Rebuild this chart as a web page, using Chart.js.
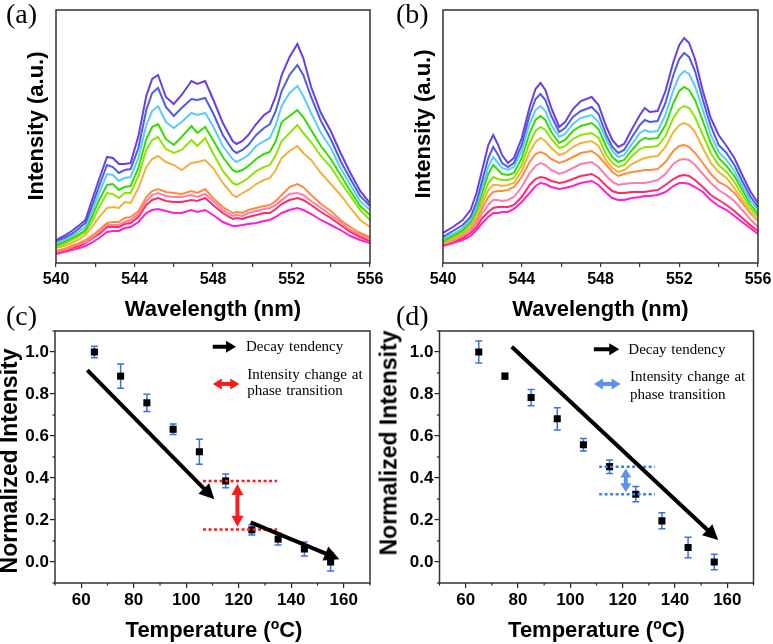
<!DOCTYPE html>
<html><head><meta charset="utf-8">
<script src="https://cdn.jsdelivr.net/npm/chart.js@4.4.1/dist/chart.umd.min.js"></script>
<style>
html,body{margin:0;padding:0;background:#fff;}
#wrap{position:relative;width:773px;height:644px;overflow:hidden;background:#fff;}
canvas{position:absolute;left:0;top:0;}
.t{position:absolute;white-space:nowrap;color:#000;}
.lab{font-family:"Liberation Serif","Times New Roman",serif;font-size:28px;line-height:28px;}
.ax{font-family:"Liberation Sans",Arial,sans-serif;font-weight:bold;font-size:22px;line-height:22px;}
.ax23{font-family:"Liberation Sans",Arial,sans-serif;font-weight:bold;font-size:23px;line-height:23px;}
.lg{font-family:"Liberation Serif","Times New Roman",serif;font-size:15px;line-height:15px;word-spacing:1px;}
.sup{font-size:14px;position:relative;top:-8px;}
</style></head>
<body><div id="wrap">
<canvas id="ca" width="773" height="644"></canvas>
<canvas id="cb" width="773" height="644"></canvas>
<canvas id="cc" width="773" height="644"></canvas>
<canvas id="cd" width="773" height="644"></canvas>

<div class="t lab" style="left:6px;top:-0.4px">(a)</div>
<div class="t lab" style="left:396px;top:-0.4px">(b)</div>
<div class="t lab" style="left:6px;top:301.6px">(c)</div>
<div class="t lab" style="left:396px;top:301.6px">(d)</div>

<div class="t ax" style="left:213px;top:298px;transform:translateX(-50%)">Wavelength (nm)</div>
<div class="t ax" style="left:600.5px;top:298px;transform:translateX(-50%)">Wavelength (nm)</div>
<div class="t ax" style="left:214px;top:619.4px;transform:translateX(-50%)">Temperature (<span class="sup">o</span>C)</div>
<div class="t ax" style="left:596.5px;top:619.4px;transform:translateX(-50%)">Temperature (<span class="sup">o</span>C)</div>

<div class="t ax" style="left:35.9px;top:125.5px;transform:translate(-50%,-50%) rotate(-90deg)">Intensity (a.u.)</div>
<div class="t ax" style="left:422.9px;top:123.5px;transform:translate(-50%,-50%) rotate(-90deg)">Intensity (a.u.)</div>
<div class="t ax23" style="left:9.3px;top:461px;transform:translate(-50%,-50%) rotate(-90deg)">Normalized Intensity</div>
<div class="t ax23" style="left:388.7px;top:442.5px;transform:translate(-50%,-50%) rotate(-90deg)">Normalized Intensity</div>

<div class="t lg" style="left:246px;top:339.1px">Decay tendency</div>
<div class="t lg" style="left:247.3px;top:367.4px">Intensity change at</div>
<div class="t lg" style="left:247.3px;top:383.4px">phase transition</div>
<div class="t lg" style="left:628.3px;top:341.7px">Decay tendency</div>
<div class="t lg" style="left:630px;top:369.1px">Intensity change at</div>
<div class="t lg" style="left:630px;top:386.7px">phase transition</div>
</div>
<script>
// ---------- Panel (a) spectra ----------
const wavelengthA = [540,540.4,540.8,541.2,541.5,541.8,542.2,542.6,542.9,543.2,543.5,543.8,544.2,544.6,544.9,545.2,545.6,546.0,546.4,546.9,547.2,547.6,548.0,548.5,549.0,549.2,549.5,549.8,550.2,550.6,550.9,551.2,551.5,551.9,552.3,552.6,553.0,553.5,554.0,554.5,555.0,555.5,556.0];
const a1 = [23,27,32,38,43,61,84,106,105,99,99,100,127,167,184,188,166,159,168,182,179,182,164,140,122,119,122,128,139,148,152,167,188,206,219,205,176,150,132,110,90,72,60];
const a2 = [22,25,29,35,40,55,77,98,96,90,93,94,115,153,170,175,156,147,155,164,163,165,150,128,113,110,113,118,128,135,139,152,172,188,198,188,166,142,124,102,84,67,57];
const a3 = [20,23,27,32,36,50,70,89,88,82,85,86,105,138,152,157,141,135,141,150,148,150,137,117,104,101,104,108,117,122,125,138,157,170,177,167,150,130,115,95,78,62,53];
const a4 = [18,21,25,29,33,45,63,78,79,73,76,77,95,124,136,139,124,118,126,137,130,136,123,106,93,91,93,97,104,109,111,122,141,147,153,146,133,117,104,88,72,57,48];
const a5 = [16,19,23,27,31,40,56,70,69,65,70,70,87,113,123,126,114,110,113,123,117,125,110,92,80,78,81,85,92,96,98,108,122,130,138,130,121,107,96,81,67,53,43];
const a6 = [15,17,20,24,28,35,46,55,56,55,61,60,75,96,104,107,101,98,93,100,101,103,95,80,68,66,70,73,79,83,85,93,105,112,117,110,103,90,79,68,55,43,36];
const a7 = [12,14,17,20,23,27,33,40,41,41,45,46,52,66,72,74,71,70,69,72,70,74,65,56,50,51,50,53,55,57,58,62,68,76,79,76,68,59,52,43,36,30,26];
const a8 = [11,13,16,19,21,25,31,38,38,38,41,43,49,62,68,70,67,66,66,68,66,69,62,53,47,48,47,50,52,54,55,58,63,69,70,68,62,55,48,41,33,28,24];
const a9 = [10,12,15,17,20,24,29,36,36,36,39,40,46,58,63,65,62,61,61,63,62,65,58,50,44,45,44,46,48,50,50,54,59,63,65,63,58,51,45,38,31,26,22];
const a10 = [9,11,13,15,17,20,25,31,32,32,35,36,41,50,53,54,52,50,50,53,51,53,48,41,37,37,38,39,40,42,43,46,50,53,55,53,49,43,38,33,27,23,20];

// ---------- Panel (b) spectra ----------
const wavelengthB = [540,540.5,541.0,541.4,541.7,542.0,542.3,542.55,542.8,543.0,543.3,543.6,544.0,544.4,544.7,544.95,545.2,545.5,545.9,546.2,546.6,547.0,547.55,547.9,548.3,548.6,548.9,549.2,549.6,550.0,550.25,550.5,550.9,551.3,551.7,552.0,552.25,552.5,552.8,553.2,553.6,554.0,554.4,554.8,555.2,555.6,556.0];
const b1 = [30,36,43,53,70,94,118,128,118,108,100,105,125,156,174,180,173,155,136,141,154,162,166,158,136,123,116,119,134,148,155,151,152,172,201,218,225,220,204,172,145,128,117,105,88,72,60];
const b2 = [26,32,38,46,61,83,105,116,108,100,96,100,118,148,164,169,163,147,131,135,146,152,156,149,128,116,110,113,126,138,143,141,142,160,188,204,210,206,192,163,137,118,110,98,82,67,56];
const b3 = [24,29,35,43,56,76,96,106,100,95,93,96,112,139,153,157,152,138,126,129,139,145,148,141,123,112,106,108,119,130,133,131,132,148,173,187,192,189,177,153,128,111,103,92,77,63,53];
const b4 = [22,27,33,41,53,71,89,98,93,89,88,90,105,130,143,147,143,131,120,123,132,137,140,134,116,106,101,103,113,122,125,124,125,138,160,172,176,173,163,142,120,105,97,87,73,59,49];
const b5 = [21,26,31,39,50,65,80,86,84,83,83,85,98,120,132,136,133,124,115,117,124,128,130,125,108,100,96,98,107,114,116,116,117,127,145,154,157,155,146,128,110,98,91,81,68,55,46];
const b6 = [20,24,29,36,46,60,73,78,78,77,78,80,92,111,121,125,122,115,108,110,116,120,122,117,102,95,91,93,99,103,105,106,107,116,131,138,140,138,131,115,100,91,85,75,63,51,42];
const b7 = [20,24,29,35,43,55,66,71,72,72,73,76,86,101,109,111,109,104,100,102,106,110,112,107,98,91,87,89,91,92,93,93,94,101,112,117,118,116,110,100,89,81,77,70,60,50,42];
const b8 = [19,22,27,32,40,50,58,63,63,62,63,66,76,90,97,100,98,93,89,91,95,99,101,96,87,81,78,79,80,80,80,81,83,89,99,103,104,103,98,89,80,73,68,62,53,44,36];
const b9 = [18,21,25,30,36,45,51,55,56,56,56,58,66,78,84,86,85,82,80,81,84,87,89,85,77,72,70,70,71,71,71,72,73,78,84,87,88,87,83,76,68,63,58,52,45,38,32];
const b10 = [17,20,23,27,33,40,46,50,50,51,51,54,61,70,77,80,79,76,74,75,77,80,82,78,70,65,63,63,65,66,67,67,68,71,77,80,80,79,76,71,63,57,53,47,41,35,29];

const lineColors = ['#6a3ee6','#4a5fe4','#5ccbfa','#33dc00','#8ce400','#f2b13c','#ff8b3f','#ff7cab','#ff2c63','#ff20cf'];

// ---------- Panels (c),(d) ----------
const temperature = [65,75,85,95,105,115,125,135,145,155];
const normC = [1.000,0.885,0.758,0.632,0.525,0.386,0.153,0.109,0.062,0.000];
const errC  = [0.027,0.058,0.041,0.025,0.060,0.033,0.024,0.028,0.033,0.043];
const normD = [1.000,0.885,0.783,0.682,0.558,0.454,0.323,0.196,0.069,0.000];
const errD  = [0.052,0.013,0.039,0.053,0.030,0.032,0.036,0.038,0.049,0.037];

const xTicksSpec = [540,542,544,546,548,550,552,554,556];
const tempTickLabels = [60,80,100,120,140,160];
const normTickLabels = [0.0,0.2,0.4,0.6,0.8,1.0];

// annotation geometry (in data units)
const annoC = {
  arrows:[
    {from:[62.3,0.914], to:[110.7,0.299], color:'#000', w:4, hl:15, hw:15},
    {from:[124.55,0.189], to:[158.3,0.013], color:'#000', w:4, hl:15, hw:15},
    {from:[119.5,0.372], to:[119.5,0.168], color:'#ff1a1a', w:4, hl:11, hw:12, both:true},
    {from:[110.1,1.025], to:[118.95,1.025], color:'#000', w:4, hl:10, hw:12},
    {from:[110.1,0.848], to:[120.2,0.848], color:'#ff1a1a', w:4, hl:9, hw:11, both:true}
  ],
  dotted:[
    {y:0.386, x1:106.4, x2:134.6, color:'#ff1a1a'},
    {y:0.155, x1:106.4, x2:134.6, color:'#ff1a1a'}
  ]
};
const annoD = {
  arrows:[
    {from:[77.6,1.025], to:[156.5,0.105], color:'#000', w:4, hl:15, hw:15},
    {from:[121.2,0.445], to:[121.2,0.332], color:'#5b93ea', w:4, hl:9, hw:11, both:true},
    {from:[109.0,1.013], to:[118.7,1.013], color:'#000', w:4, hl:10, hw:12},
    {from:[109.0,0.848], to:[119.2,0.848], color:'#5b93ea', w:4, hl:9, hw:11, both:true}
  ],
  dotted:[
    {y:0.454, x1:111.0, x2:132.3, color:'#3d7fee'},
    {y:0.323, x1:111.0, x2:132.3, color:'#3d7fee'}
  ]
};

const SANS = '"Liberation Sans", Arial, sans-serif';

function fixAxis(size){
  return function(s){
    if (s.isHorizontal()) s.height = size; else s.width = size;
    s.paddingLeft = 0; s.paddingRight = 0; s.paddingTop = 0; s.paddingBottom = 0;
  };
}

const boxPlugin = {
  id:'box',
  afterDraw(chart){
    const a = chart.chartArea, c = chart.ctx;
    c.save(); c.strokeStyle = '#333'; c.lineWidth = 1.5;
    c.strokeRect(a.left, a.top, a.right - a.left, a.bottom - a.top);
    c.restore();
  }
};

// short minor ticks for the temperature panels
const minorTickPlugin = {
  id:'minorTicks',
  afterDraw(chart){
    const c = chart.ctx, a = chart.chartArea;
    c.save(); c.strokeStyle = '#222'; c.lineWidth = 1.2;
    const xs = chart.scales.x, ys = chart.scales.y;
    xs.ticks.forEach(t=>{
      if (tempTickLabels.indexOf(Math.round(t.value)) < 0){
        const x = xs.getPixelForValue(t.value);
        c.beginPath(); c.moveTo(x, a.bottom); c.lineTo(x, a.bottom + 2.5); c.stroke();
      }
    });
    ys.ticks.forEach(t=>{
      const k = Math.round(t.value*10)/10;
      if (!normTickLabels.some(v=>Math.abs(v-k)<1e-6)){
        const y = ys.getPixelForValue(t.value);
        c.beginPath(); c.moveTo(a.left, y); c.lineTo(a.left - 2.5, y); c.stroke();
      }
    });
    c.restore();
  }
};

function spectraChart(id, xs, series, pad){
  return new Chart(document.getElementById(id), {
    type:'line',
    data:{ datasets: series.map((ys,i)=>({
      data: xs.map((x,j)=>({x:x, y:ys[j]})),
      borderColor: lineColors[i], borderWidth: 2, pointRadius: 0, tension: 0, fill: false
    }))},
    options:{
      responsive:false, animation:false, events:[],
      layout:{padding:pad, autoPadding:false},
      plugins:{legend:{display:false}, tooltip:{enabled:false}},
      scales:{
        x:{type:'linear', min:540, max:556, afterFit:fixAxis(30),
           afterBuildTicks:(s)=>{ s.ticks = xTicksSpec.map(v=>({value:v})); },
           ticks:{autoSkip:false, maxRotation:0, padding:3, color:'#000',
                  font:{family:SANS, size:16, weight:'bold'},
                  callback:(v)=> (v % 4 === 0 ? String(v) : '')},
           grid:{drawOnChartArea:false, tickLength:4, color:'#333', lineWidth:1.2},
           border:{display:false}},
        y:{type:'linear', min:0, max:253, afterFit:fixAxis(10),
           ticks:{display:false}, grid:{display:false}, border:{display:false}}
      }
    },
    plugins:[boxPlugin]
  });
}

function drawArrow(ctx, p1, p2, a){
  const dx = p2[0]-p1[0], dy = p2[1]-p1[1];
  const L = Math.hypot(dx,dy); const ux = dx/L, uy = dy/L; const nx = -uy, ny = ux;
  const s = a.both ? [p1[0]+ux*a.hl*0.8, p1[1]+uy*a.hl*0.8] : p1;
  const e = [p2[0]-ux*a.hl*0.8, p2[1]-uy*a.hl*0.8];
  ctx.strokeStyle = a.color; ctx.fillStyle = a.color; ctx.lineWidth = a.w; ctx.lineCap='butt';
  ctx.beginPath(); ctx.moveTo(s[0],s[1]); ctx.lineTo(e[0],e[1]); ctx.stroke();
  const head = (tip, dirx, diry)=>{
    ctx.beginPath();
    ctx.moveTo(tip[0], tip[1]);
    ctx.lineTo(tip[0]-dirx*a.hl + nx*a.hw/2, tip[1]-diry*a.hl + ny*a.hw/2);
    ctx.lineTo(tip[0]-dirx*a.hl - nx*a.hw/2, tip[1]-diry*a.hl - ny*a.hw/2);
    ctx.closePath(); ctx.fill();
  };
  head(p2, ux, uy);
  if (a.both) head(p1, -ux, -uy);
}

function annoPlugin(spec){
  return {
    id:'anno',
    afterDatasetsDraw(chart){
      const xs = chart.scales.x, ys = chart.scales.y, ctx = chart.ctx;
      ctx.save();
      spec.dotted.forEach(d=>{
        ctx.strokeStyle = d.color; ctx.lineWidth = 2.5; ctx.setLineDash([3,2.5]);
        const y = ys.getPixelForValue(d.y);
        ctx.beginPath(); ctx.moveTo(xs.getPixelForValue(d.x1), y); ctx.lineTo(xs.getPixelForValue(d.x2), y); ctx.stroke();
      });
      ctx.setLineDash([]);
      spec.arrows.forEach(a=>{
        const p1 = [xs.getPixelForValue(a.from[0]), ys.getPixelForValue(a.from[1])];
        const p2 = [xs.getPixelForValue(a.to[0]), ys.getPixelForValue(a.to[1])];
        drawArrow(ctx, p1, p2, a);
      });
      ctx.restore();
    }
  };
}

function errPlugin(errs){
  return {
    id:'err',
    beforeDatasetsDraw(chart){
      const xs = chart.scales.x, ys = chart.scales.y, ctx = chart.ctx;
      const d = chart.data.datasets[0].data;
      ctx.save(); ctx.strokeStyle = '#3f6fe6'; ctx.lineWidth = 1.5;
      d.forEach((p,i)=>{
        const x = xs.getPixelForValue(p.x);
        const y1 = ys.getPixelForValue(p.y + errs[i]);
        const y2 = ys.getPixelForValue(p.y - errs[i]);
        ctx.beginPath();
        ctx.moveTo(x,y1); ctx.lineTo(x,y2);
        ctx.moveTo(x-3.5,y1); ctx.lineTo(x+3.5,y1);
        ctx.moveTo(x-3.5,y2); ctx.lineTo(x+3.5,y2);
        ctx.stroke();
      });
      ctx.restore();
    }
  };
}

const transparent = 'rgba(0,0,0,0)';

function scatterChart(id, ys, errs, anno, pad){
  return new Chart(document.getElementById(id), {
    type:'scatter',
    data:{ datasets:[{
      data: temperature.map((t,i)=>({x:t, y:ys[i]})),
      pointStyle:'rect', pointRadius:5, backgroundColor:'#000', borderColor:'#000', borderWidth:0, showLine:false
    }]},
    options:{
      responsive:false, animation:false, events:[],
      layout:{padding:pad, autoPadding:false},
      plugins:{legend:{display:false}, tooltip:{enabled:false}},
      scales:{
        x:{type:'linear', min:50, max:170, afterFit:fixAxis(30),
           ticks:{stepSize:10, autoSkip:false, maxRotation:0, padding:2, color:'#000',
                  font:{family:SANS, size:17, weight:'bold'},
                  callback:(v)=> (tempTickLabels.indexOf(Math.round(v)) >= 0 ? String(Math.round(v)) : '')},
           grid:{drawOnChartArea:false, tickLength:5, color:'#222', lineWidth:1.2,
                 tickColor:(c)=> (c.tick && tempTickLabels.indexOf(Math.round(c.tick.value)) >= 0 ? '#222' : transparent)},
           border:{display:false}},
        y:{type:'linear', min:-0.1, max:1.1, afterFit:fixAxis(40),
           ticks:{stepSize:0.1, autoSkip:false, padding:1, color:'#000',
                  font:{family:SANS, size:17, weight:'bold'},
                  callback:(v)=>{ const k = Math.round(v*10)/10; return normTickLabels.some(t=>Math.abs(t-k)<1e-6) ? k.toFixed(1) : ''; }},
           grid:{drawOnChartArea:false, tickLength:5, color:'#222', lineWidth:1.2,
                 tickColor:(c)=>{ if(!c.tick) return transparent; const k = Math.round(c.tick.value*10)/10; return normTickLabels.some(t=>Math.abs(t-k)<1e-6) ? '#222' : transparent; }},
           border:{display:false}}
      }
    },
    plugins:[boxPlugin, minorTickPlugin, errPlugin(errs), annoPlugin(anno)]
  });
}

spectraChart('ca', wavelengthA, [a1,a2,a3,a4,a5,a6,a7,a8,a9,a10], {left:46, right:403, top:10, bottom:351});
spectraChart('cb', wavelengthB, [b1,b2,b3,b4,b5,b6,b7,b8,b9,b10], {left:433, right:15, top:10, bottom:351});
scatterChart('cc', normC, errC, annoC, {left:15, right:403, top:331, bottom:31});
scatterChart('cd', normD, errD, annoD, {left:399.5, right:19.5, top:331, bottom:31});
</script>
</body></html>
